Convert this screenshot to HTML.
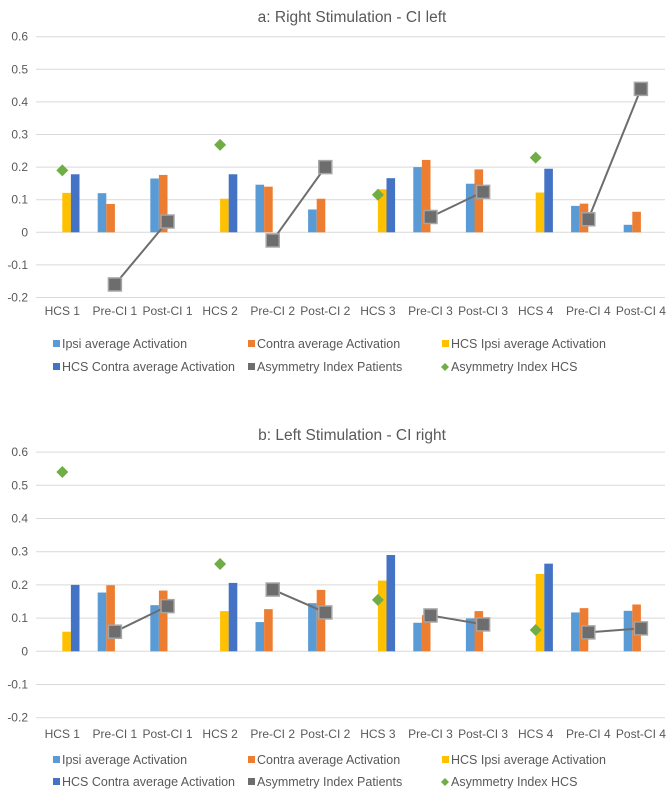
<!DOCTYPE html>
<html><head><meta charset="utf-8">
<style>
body{margin:0;background:#fff;}
svg{display:block;font-family:"Liberation Sans",sans-serif;}
</style></head>
<body>
<svg id="chart" width="669" height="789" viewBox="0 0 669 789" xmlns="http://www.w3.org/2000/svg"></svg>
<script>
const categories = ["HCS 1","Pre-CI 1","Post-CI 1","HCS 2","Pre-CI 2","Post-CI 2","HCS 3","Pre-CI 3","Post-CI 3","HCS 4","Pre-CI 4","Post-CI 4"];
const yTicks = [0.6,0.5,0.4,0.3,0.2,0.1,0,-0.1,-0.2];
const yTickLabels = ["0.6","0.5","0.4","0.3","0.2","0.1","0","-0.1","-0.2"];
// Chart a
const aIpsi = [null,0.12,0.165,null,0.146,0.07,null,0.2,0.149,null,0.081,0.023];
const aContra = [null,0.087,0.176,null,0.14,0.103,null,0.222,0.193,null,0.088,0.063];
const aHcsIpsi = [0.121,null,null,0.103,null,null,0.132,null,null,0.122,null,null];
const aHcsContra = [0.178,null,null,0.178,null,null,0.166,null,null,0.195,null,null];
const aAsymPatients = [null,-0.16,0.033,null,-0.025,0.2,null,0.047,0.124,null,0.04,0.44];
const aAsymHcs = [0.19,null,null,0.268,null,null,0.115,null,null,0.229,null,null];
// Chart b
const bIpsi = [null,0.177,0.139,null,0.088,0.145,null,0.086,0.099,null,0.117,0.122];
const bContra = [null,0.199,0.183,null,0.127,0.185,null,0.109,0.121,null,0.13,0.141];
const bHcsIpsi = [0.059,null,null,0.121,null,null,0.213,null,null,0.233,null,null];
const bHcsContra = [0.2,null,null,0.206,null,null,0.29,null,null,0.264,null,null];
const bAsymPatients = [null,0.059,0.136,null,0.186,0.117,null,0.108,0.081,null,0.057,0.069];
const bAsymHcs = [0.54,null,null,0.263,null,null,0.155,null,null,0.064,null,null];
const legendLabels = ["Ipsi average Activation","Contra average Activation","HCS Ipsi average Activation","HCS Contra average Activation","Asymmetry Index Patients","Asymmetry Index HCS"];

const NS="http://www.w3.org/2000/svg";
const svg=document.getElementById('chart');
function mk(tag,attrs,parent){const e=document.createElementNS(NS,tag);for(const k in attrs)e.setAttribute(k,attrs[k]);(parent||svg).appendChild(e);return e;}
const COL={ipsi:"#5b9bd5",contra:"#ed7d31",hipsi:"#ffc000",hcontra:"#4472c4",sq:"#6d6d6d",dia:"#70ad47"};

function drawChart(cfg){
  const g=mk('g',{});
  
  
  const x0=36, step=52.6, bw=8.6;
  const xC=i=>x0+step*(i+0.5);
  const y=v=>cfg.zero - v*cfg.scale;
  const t=mk('text',{x:352,y:cfg.titleY,'text-anchor':'middle','font-size':15.5,fill:'#595959'},g);
  t.textContent=cfg.title;
  
  
  yTicks.forEach((v,i)=>{
    const l=mk('line',{x1:x0,x2:665,y1:y(v),y2:y(v),stroke:'#d9d9d9','stroke-width':1},g);
    
    
    const tx=mk('text',{x:28,y:y(v)+4,'text-anchor':'end','font-size':12,fill:'#595959'},g);
    tx.textContent=yTickLabels[i];
    
    
  });
  const series=[[cfg.ipsi,COL.ipsi,-2],[cfg.contra,COL.contra,-1],[cfg.hipsi,COL.hipsi,0],[cfg.hcontra,COL.hcontra,1]];
  series.forEach(([arr,c,off])=>{
    arr.forEach((v,i)=>{
      if(v==null)return;
      const top=Math.min(y(v),y(0)),h=Math.abs(y(v)-y(0));
      const r=mk('rect',{x:xC(i)+off*bw,y:top,width:bw,height:h,fill:c},g);
      
      
    });
  });
  categories.forEach((c,i)=>{
    const tx=mk('text',{x:xC(i),y:cfg.xLabY,'text-anchor':'middle','font-size':12,fill:'#595959'},g);
    tx.textContent=c;
    
    
  });
  for(let i=0;i<categories.length-1;i++){
    const a=cfg.asymP[i],b=cfg.asymP[i+1];
    if(a!=null&&b!=null&&categories[i].startsWith('Pre')){
      const l=mk('line',{x1:xC(i),y1:y(a),x2:xC(i+1),y2:y(b),stroke:'#6d6d6d','stroke-width':2},g);
      
      
    }
  }
  cfg.asymP.forEach((v,i)=>{
    if(v==null)return;
    const r=mk('rect',{x:xC(i)-6.5,y:y(v)-6.5,width:13,height:13,fill:COL.sq,stroke:'#a5a5a5','stroke-width':1.5},g);
    
    
  });
  cfg.asymH.forEach((v,i)=>{
    if(v==null)return;
    const cx=xC(i),cy=y(v);
    const p=mk('polygon',{points:`${cx},${cy-6} ${cx+6},${cy} ${cx},${cy+6} ${cx-6},${cy}`,fill:COL.dia},g);
    
    
  });
  const lx=[53,248,442], cols=[COL.ipsi,COL.contra,COL.hipsi,COL.hcontra,COL.sq,COL.dia];
  legendLabels.forEach((lab,i)=>{
    const cx=lx[i%3], cy=cfg.legY+Math.floor(i/3)*cfg.legGap;
    if(i===5){mk('polygon',{points:`${cx+3},${cy-8} ${cx+7},${cy-4} ${cx+3},${cy} ${cx-1},${cy-4}`,fill:cols[i]},g);}
    else mk('rect',{x:cx,y:cy-8,width:7,height:7,fill:cols[i]},g);
    const tx=mk('text',{x:cx+9,y:cy,'font-size':12.5,fill:'#595959'},g);
    tx.textContent=lab;
    
    
  });
}
drawChart({name:'chart-a-right-stimulation',title:'a: Right Stimulation - CI left',titleY:22,zero:232.3,scale:326,xLabY:315,legY:348,legGap:23,
  ipsi:aIpsi,contra:aContra,hipsi:aHcsIpsi,hcontra:aHcsContra,asymP:aAsymPatients,asymH:aAsymHcs});
drawChart({name:'chart-b-left-stimulation',title:'b: Left Stimulation - CI right',titleY:440,zero:651.3,scale:332,xLabY:738,legY:764,legGap:22,
  ipsi:bIpsi,contra:bContra,hipsi:bHcsIpsi,hcontra:bHcsContra,asymP:bAsymPatients,asymH:bAsymHcs});
</script>
</body></html>
